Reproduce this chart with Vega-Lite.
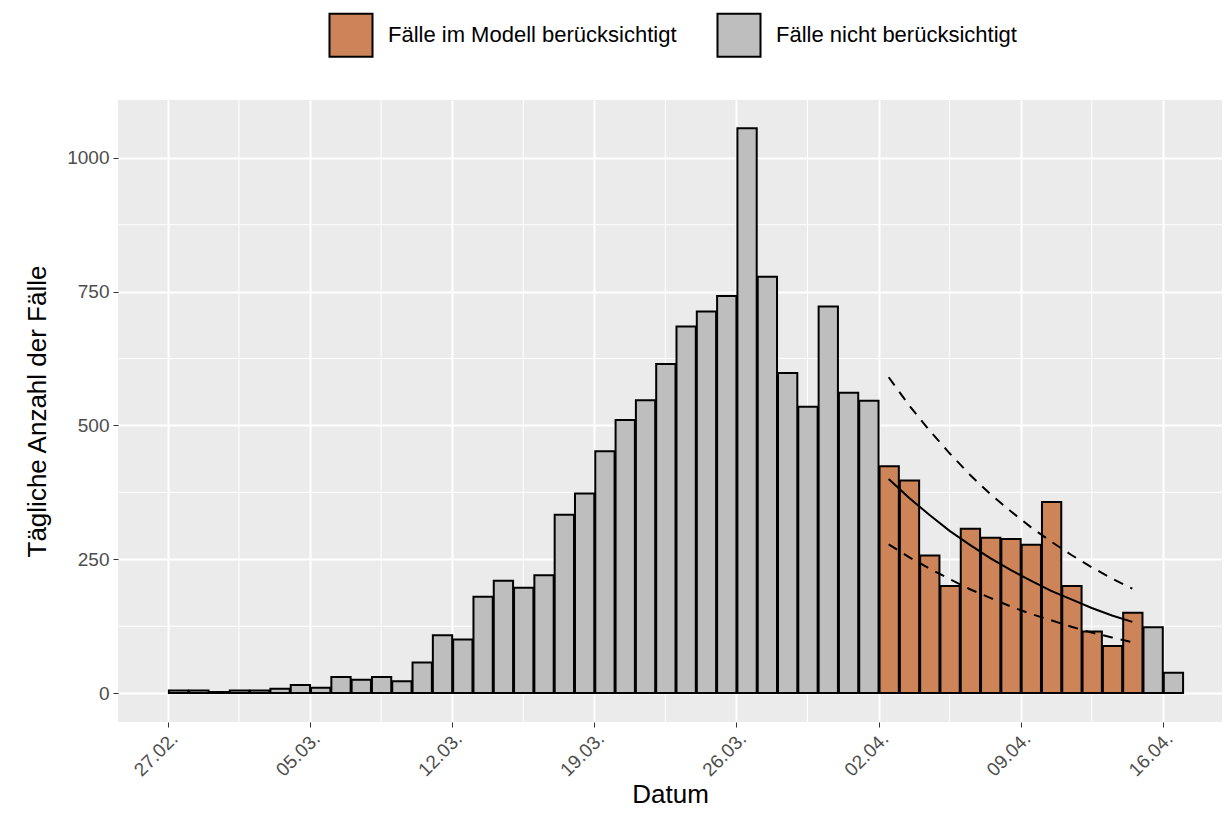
{
  "$schema": "https://vega.github.io/schema/vega-lite/v6.json",
  "width": 1104,
  "height": 622,
  "autosize": "none",
  "padding": {"left": 118, "top": 100, "right": 6, "bottom": 109},
  "background": "white",
  "config": {
    "view": {"fill": "#EBEBEB", "stroke": null}
  },
  "datasets": {
    "cases": [
      {"date": "2020-02-27", "n": 5, "group": "Fälle nicht berücksichtigt"},
      {"date": "2020-02-28", "n": 5, "group": "Fälle nicht berücksichtigt"},
      {"date": "2020-02-29", "n": 2, "group": "Fälle nicht berücksichtigt"},
      {"date": "2020-03-01", "n": 5, "group": "Fälle nicht berücksichtigt"},
      {"date": "2020-03-02", "n": 5, "group": "Fälle nicht berücksichtigt"},
      {"date": "2020-03-03", "n": 8, "group": "Fälle nicht berücksichtigt"},
      {"date": "2020-03-04", "n": 15, "group": "Fälle nicht berücksichtigt"},
      {"date": "2020-03-05", "n": 10, "group": "Fälle nicht berücksichtigt"},
      {"date": "2020-03-06", "n": 30, "group": "Fälle nicht berücksichtigt"},
      {"date": "2020-03-07", "n": 25, "group": "Fälle nicht berücksichtigt"},
      {"date": "2020-03-08", "n": 30, "group": "Fälle nicht berücksichtigt"},
      {"date": "2020-03-09", "n": 22, "group": "Fälle nicht berücksichtigt"},
      {"date": "2020-03-10", "n": 57, "group": "Fälle nicht berücksichtigt"},
      {"date": "2020-03-11", "n": 108, "group": "Fälle nicht berücksichtigt"},
      {"date": "2020-03-12", "n": 100, "group": "Fälle nicht berücksichtigt"},
      {"date": "2020-03-13", "n": 180, "group": "Fälle nicht berücksichtigt"},
      {"date": "2020-03-14", "n": 210, "group": "Fälle nicht berücksichtigt"},
      {"date": "2020-03-15", "n": 197, "group": "Fälle nicht berücksichtigt"},
      {"date": "2020-03-16", "n": 220, "group": "Fälle nicht berücksichtigt"},
      {"date": "2020-03-17", "n": 333, "group": "Fälle nicht berücksichtigt"},
      {"date": "2020-03-18", "n": 373, "group": "Fälle nicht berücksichtigt"},
      {"date": "2020-03-19", "n": 452, "group": "Fälle nicht berücksichtigt"},
      {"date": "2020-03-20", "n": 510, "group": "Fälle nicht berücksichtigt"},
      {"date": "2020-03-21", "n": 547, "group": "Fälle nicht berücksichtigt"},
      {"date": "2020-03-22", "n": 615, "group": "Fälle nicht berücksichtigt"},
      {"date": "2020-03-23", "n": 685, "group": "Fälle nicht berücksichtigt"},
      {"date": "2020-03-24", "n": 713, "group": "Fälle nicht berücksichtigt"},
      {"date": "2020-03-25", "n": 742, "group": "Fälle nicht berücksichtigt"},
      {"date": "2020-03-26", "n": 1055, "group": "Fälle nicht berücksichtigt"},
      {"date": "2020-03-27", "n": 778, "group": "Fälle nicht berücksichtigt"},
      {"date": "2020-03-28", "n": 598, "group": "Fälle nicht berücksichtigt"},
      {"date": "2020-03-29", "n": 535, "group": "Fälle nicht berücksichtigt"},
      {"date": "2020-03-30", "n": 722, "group": "Fälle nicht berücksichtigt"},
      {"date": "2020-03-31", "n": 561, "group": "Fälle nicht berücksichtigt"},
      {"date": "2020-04-01", "n": 546, "group": "Fälle nicht berücksichtigt"},
      {"date": "2020-04-02", "n": 424, "group": "Fälle im Modell berücksichtigt"},
      {"date": "2020-04-03", "n": 397, "group": "Fälle im Modell berücksichtigt"},
      {"date": "2020-04-04", "n": 257, "group": "Fälle im Modell berücksichtigt"},
      {"date": "2020-04-05", "n": 200, "group": "Fälle im Modell berücksichtigt"},
      {"date": "2020-04-06", "n": 307, "group": "Fälle im Modell berücksichtigt"},
      {"date": "2020-04-07", "n": 290, "group": "Fälle im Modell berücksichtigt"},
      {"date": "2020-04-08", "n": 288, "group": "Fälle im Modell berücksichtigt"},
      {"date": "2020-04-09", "n": 277, "group": "Fälle im Modell berücksichtigt"},
      {"date": "2020-04-10", "n": 357, "group": "Fälle im Modell berücksichtigt"},
      {"date": "2020-04-11", "n": 200, "group": "Fälle im Modell berücksichtigt"},
      {"date": "2020-04-12", "n": 115, "group": "Fälle im Modell berücksichtigt"},
      {"date": "2020-04-13", "n": 88, "group": "Fälle im Modell berücksichtigt"},
      {"date": "2020-04-14", "n": 150, "group": "Fälle im Modell berücksichtigt"},
      {"date": "2020-04-15", "n": 123, "group": "Fälle nicht berücksichtigt"},
      {"date": "2020-04-16", "n": 38, "group": "Fälle nicht berücksichtigt"}
    ],
    "fit": [
      {"t": "2020-04-02T12:00:00Z", "fit": 400, "hi": 590, "lo": 278},
      {"t": "2020-04-03T12:00:00Z", "fit": 365, "hi": 538, "lo": 254},
      {"t": "2020-04-04T12:00:00Z", "fit": 333, "hi": 491, "lo": 233},
      {"t": "2020-04-05T12:00:00Z", "fit": 303, "hi": 448, "lo": 213},
      {"t": "2020-04-06T12:00:00Z", "fit": 277, "hi": 408, "lo": 194},
      {"t": "2020-04-07T12:00:00Z", "fit": 252, "hi": 372, "lo": 178},
      {"t": "2020-04-08T12:00:00Z", "fit": 230, "hi": 340, "lo": 162},
      {"t": "2020-04-09T12:00:00Z", "fit": 210, "hi": 310, "lo": 148},
      {"t": "2020-04-10T12:00:00Z", "fit": 191, "hi": 283, "lo": 136},
      {"t": "2020-04-11T12:00:00Z", "fit": 175, "hi": 258, "lo": 124},
      {"t": "2020-04-12T12:00:00Z", "fit": 159, "hi": 235, "lo": 113},
      {"t": "2020-04-13T12:00:00Z", "fit": 145, "hi": 214, "lo": 104},
      {"t": "2020-04-14T12:00:00Z", "fit": 133, "hi": 195, "lo": 95}
    ],
    "minorY": [{"v": 125}, {"v": 375}, {"v": 625}, {"v": 875}],
    "minorX": [
      {"t": "2020-03-01T12:00:00Z"}, {"t": "2020-03-08T12:00:00Z"}, {"t": "2020-03-15T12:00:00Z"},
      {"t": "2020-03-22T12:00:00Z"}, {"t": "2020-03-29T12:00:00Z"}, {"t": "2020-04-05T12:00:00Z"},
      {"t": "2020-04-12T12:00:00Z"}
    ]
  },
  "layer": [
    {
      "data": {"name": "minorY"},
      "mark": {"type": "rule", "color": "white", "strokeWidth": 1},
      "encoding": {"y": {"field": "v", "type": "quantitative", "scale": {"domain": [-54, 1108], "nice": false, "zero": false}}}
    },
    {
      "data": {"name": "minorX"},
      "mark": {"type": "rule", "color": "white", "strokeWidth": 1},
      "encoding": {"x": {"field": "t", "type": "temporal", "scale": {"type": "utc"}}}
    },
    {
      "data": {"name": "cases"},
      "mark": {"type": "bar", "stroke": "black", "strokeWidth": 2, "opacity": 1},
      "encoding": {
        "x": {
          "field": "date", "type": "temporal", "timeUnit": "utcyearmonthdate",
          "scale": {"type": "utc", "domain": ["2020-02-24T13:00:00Z", "2020-04-18T22:00:00Z"], "nice": false},
          "title": "Datum",
          "axis": {
            "values": [
              {"year": 2020, "month": 2, "date": 27, "utc": true},
              {"year": 2020, "month": 3, "date": 5, "utc": true},
              {"year": 2020, "month": 3, "date": 12, "utc": true},
              {"year": 2020, "month": 3, "date": 19, "utc": true},
              {"year": 2020, "month": 3, "date": 26, "utc": true},
              {"year": 2020, "month": 4, "date": 2, "utc": true},
              {"year": 2020, "month": 4, "date": 9, "utc": true},
              {"year": 2020, "month": 4, "date": 16, "utc": true}
            ],
            "format": "%d.%m.", "labelAngle": -45, "labelAlign": "right", "labelBaseline": "top", "labelPadding": 2, "titlePadding": 2,
            "gridColor": "white", "gridWidth": 2, "domain": false, "tickColor": "#333333", "tickSize": 5,
            "labelColor": "#4D4D4D", "labelFontSize": 19, "labelFont": "Liberation Sans",
            "titleFont": "Liberation Sans", "titleFontSize": 26, "titleFontWeight": "normal", "titleColor": "black"
          }
        },
        "y": {
          "field": "n", "type": "quantitative", "title": "Tägliche Anzahl der Fälle",
          "scale": {"domain": [-54, 1108], "nice": false, "zero": false},
          "axis": {"values": [0, 250, 500, 750, 1000], "format": "d", "titlePadding": 16, "labelPadding": 4,
            "gridColor": "white", "gridWidth": 2, "domain": false, "tickColor": "#333333", "tickSize": 5,
            "labelColor": "#4D4D4D", "labelFontSize": 19, "labelFont": "Liberation Sans",
            "titleFont": "Liberation Sans", "titleFontSize": 26, "titleFontWeight": "normal", "titleColor": "black"}
        },
        "fill": {
          "field": "group", "type": "nominal", "title": null,
          "scale": {"domain": ["Fälle im Modell berücksichtigt", "Fälle nicht berücksichtigt"], "range": ["#CD8459", "#BEBEBE"]},
          "legend": {"orient": "none", "legendX": 210, "legendY": -88, "direction": "horizontal", "symbolType": "square", "symbolSize": 1850,
            "symbolStrokeColor": "black", "symbolStrokeWidth": 2, "symbolOpacity": 1, "columnPadding": 36, "labelOffset": 14,
            "labelLimit": 0, "labelFont": "Liberation Sans", "labelFontSize": 22, "labelColor": "black"}
        }
      }
    },
    {
      "data": {"name": "fit"},
      "mark": {"type": "line", "color": "black", "strokeWidth": 2},
      "encoding": {"x": {"field": "t", "type": "temporal"}, "y": {"field": "fit", "type": "quantitative"}}
    },
    {
      "data": {"name": "fit"},
      "mark": {"type": "line", "color": "black", "strokeWidth": 2, "strokeDash": [10, 8]},
      "encoding": {"x": {"field": "t", "type": "temporal"}, "y": {"field": "hi", "type": "quantitative"}}
    },
    {
      "data": {"name": "fit"},
      "mark": {"type": "line", "color": "black", "strokeWidth": 2, "strokeDash": [10, 8]},
      "encoding": {"x": {"field": "t", "type": "temporal"}, "y": {"field": "lo", "type": "quantitative"}}
    }
  ]
}
